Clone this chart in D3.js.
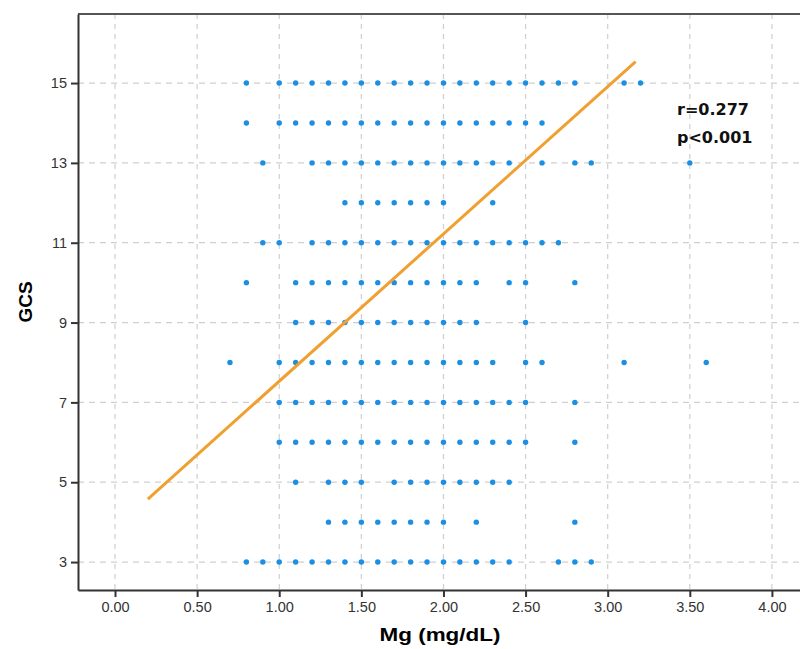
<!DOCTYPE html>
<html>
<head>
<meta charset="utf-8">
<style>
html, body {
  margin: 0px;
  padding: 0px;
  border: 0px;
  background: #fff;
}
svg text {
  font-family: "Liberation Sans", Arial, sans-serif;
}
</style>
</head>
<body>
<div id="chart"></div>
<script src="https://cdn.jsdelivr.net/npm/d3@7"></script>
<script>
  // GCS levels and the Mg values (mg/dL) that show a dot on each row
  var gcsLevels = [15, 14, 13, 12, 11, 10, 9, 8, 7, 6, 5, 4, 3];
  var mgByGcs = [
    [0.8, 1.0, 1.1, 1.2, 1.3, 1.4, 1.5, 1.6, 1.7, 1.8, 1.9, 2.0, 2.1, 2.2, 2.3, 2.4, 2.5, 2.6, 2.7, 2.8, 3.1, 3.2],
    [0.8, 1.0, 1.1, 1.2, 1.3, 1.4, 1.5, 1.6, 1.7, 1.8, 1.9, 2.0, 2.1, 2.2, 2.3, 2.4, 2.5, 2.6],
    [0.9, 1.2, 1.3, 1.4, 1.5, 1.6, 1.7, 1.8, 1.9, 2.0, 2.1, 2.2, 2.3, 2.4, 2.6, 2.8, 2.9, 3.5],
    [1.4, 1.5, 1.6, 1.7, 1.8, 1.9, 2.0, 2.3],
    [0.9, 1.0, 1.2, 1.3, 1.4, 1.5, 1.6, 1.7, 1.8, 1.9, 2.0, 2.1, 2.2, 2.3, 2.4, 2.5, 2.6, 2.7],
    [0.8, 1.1, 1.2, 1.3, 1.4, 1.5, 1.6, 1.7, 1.8, 1.9, 2.0, 2.1, 2.2, 2.4, 2.5, 2.8],
    [1.1, 1.2, 1.3, 1.4, 1.5, 1.6, 1.7, 1.8, 1.9, 2.0, 2.1, 2.2, 2.5],
    [0.7, 1.0, 1.1, 1.2, 1.3, 1.4, 1.5, 1.6, 1.7, 1.8, 1.9, 2.0, 2.1, 2.2, 2.3, 2.5, 2.6, 3.1, 3.6],
    [1.0, 1.1, 1.2, 1.3, 1.4, 1.5, 1.6, 1.7, 1.8, 1.9, 2.0, 2.1, 2.2, 2.3, 2.4, 2.5, 2.8],
    [1.0, 1.1, 1.2, 1.3, 1.4, 1.5, 1.6, 1.7, 1.8, 1.9, 2.0, 2.1, 2.2, 2.3, 2.4, 2.5, 2.8],
    [1.1, 1.3, 1.4, 1.5, 1.7, 1.8, 1.9, 2.0, 2.1, 2.2, 2.3, 2.4],
    [1.3, 1.4, 1.5, 1.6, 1.7, 1.8, 1.9, 2.0, 2.2, 2.8],
    [0.8, 0.9, 1.0, 1.1, 1.2, 1.3, 1.4, 1.5, 1.6, 1.7, 1.8, 1.9, 2.0, 2.1, 2.2, 2.3, 2.4, 2.7, 2.8, 2.9]
  ];
  var xTicks = [0, 0.5, 1, 1.5, 2, 2.5, 3, 3.5, 4];
  var yTicks = [3, 5, 7, 9, 11, 13, 15];
  // fit line: GCS = a + b * Mg, drawn over the Mg span
  var fitA = 3.84, fitB = 3.69;
  var fitSpan = [0.2, 3.17];
  var statLines = ["r=0.277", "p<0.001"];

  var points = [];
  gcsLevels.forEach(function (g, i) {
    mgByGcs[i].forEach(function (m) { points.push({mg: m, gcs: g}); });
  });

  var width = 800, height = 649;
  var plotLeft = 78, plotRight = 812, plotTop = 14, plotBottom = 590;

  var x = d3.scaleLinear().domain([-0.2253, 4.244]).range([plotLeft, plotRight]);
  var y = d3.scaleLinear().domain([2.3, 16.73]).range([plotBottom, plotTop]);

  var svg = d3.select("#chart").append("svg")
    .attr("width", width)
    .attr("height", height);

  // dashed grid
  svg.append("g").selectAll("line")
    .data(xTicks)
    .enter()
    .append("line")
    .attr("x1", function (d) { return x(d) }).attr("x2", function (d) { return x(d) })
    .attr("y1", plotTop).attr("y2", plotBottom)
    .attr("stroke", "#cfcfcf").attr("stroke-width", 1.2)
    .attr("stroke-dasharray", "5,5");

  svg.append("g").selectAll("line")
    .data(yTicks)
    .enter()
    .append("line")
    .attr("y1", function (d) { return y(d) }).attr("y2", function (d) { return y(d) })
    .attr("x1", plotLeft).attr("x2", plotRight)
    .attr("stroke", "#cfcfcf").attr("stroke-width", 1.2)
    .attr("stroke-dasharray", "6,5");

  // frame top
  svg.append("line")
    .attr("x1", plotLeft).attr("x2", plotRight)
    .attr("y1", plotTop).attr("y2", plotTop)
    .attr("stroke", "#555").attr("stroke-width", 1.8);

  // dots
  svg.append("g").selectAll("circle")
    .data(points)
    .enter()
    .append("circle")
    .attr("cx", function (d) { return x(d.mg) })
    .attr("cy", function (d) { return y(d.gcs) })
    .attr("r", 2.7)
    .attr("fill", "#1a8fe3");

  // fit line
  svg.append("line")
    .attr("x1", x(fitSpan[0])).attr("y1", y(fitA + fitB * fitSpan[0]))
    .attr("x2", x(fitSpan[1])).attr("y2", y(fitA + fitB * fitSpan[1]))
    .attr("stroke", "#f0a030").attr("stroke-width", 3);

  // axes (tickSize sets both sizes, so the outer one is reset after it)
  var xAxis = svg.append("g")
    .attr("transform", "translate(0," + plotBottom + ")")
    .call(d3.axisBottom(x).tickValues(xTicks).tickSize(7).tickSizeOuter(0).tickPadding(5)
      .tickFormat(d3.format(".2f")));
  var yAxis = svg.append("g")
    .attr("transform", "translate(" + plotLeft + ",0)")
    .call(d3.axisLeft(y).tickValues(yTicks).tickSize(7).tickSizeOuter(0).tickPadding(4));

  [xAxis, yAxis].forEach(function (ax) {
    ax.select(".domain").attr("stroke", "#333").attr("stroke-width", 2);
    ax.selectAll(".tick line").attr("stroke", "#333").attr("stroke-width", 2);
    ax.selectAll(".tick text")
      .attr("fill", "#333")
      .style("font-size", "14.5px")
      .style("font-family", "'Liberation Sans', Arial, sans-serif");
  });

  // axis titles
  svg.append("text")
    .attr("x", 440).attr("y", 641)
    .attr("text-anchor", "middle")
    .attr("textLength", 121).attr("lengthAdjust", "spacingAndGlyphs")
    .style("font-size", "19px").style("font-weight", "bold")
    .text("Mg (mg/dL)");

  svg.append("text")
    .attr("transform", "translate(32,302) rotate(-90)")
    .attr("text-anchor", "middle")
    .style("font-size", "19px").style("font-weight", "bold")
    .text("GCS");

  // stats
  svg.append("g").selectAll("text")
    .data(statLines)
    .enter()
    .append("text")
    .attr("x", 677)
    .attr("y", function (d, i) { return 115 + i * 28 })
    .style("font-size", "16px").style("font-weight", "bold")
    .style("font-family", "'DejaVu Sans', Verdana, sans-serif")
    .attr("fill", "#111")
    .text(function (d) { return d });
</script>
</body>
</html>
